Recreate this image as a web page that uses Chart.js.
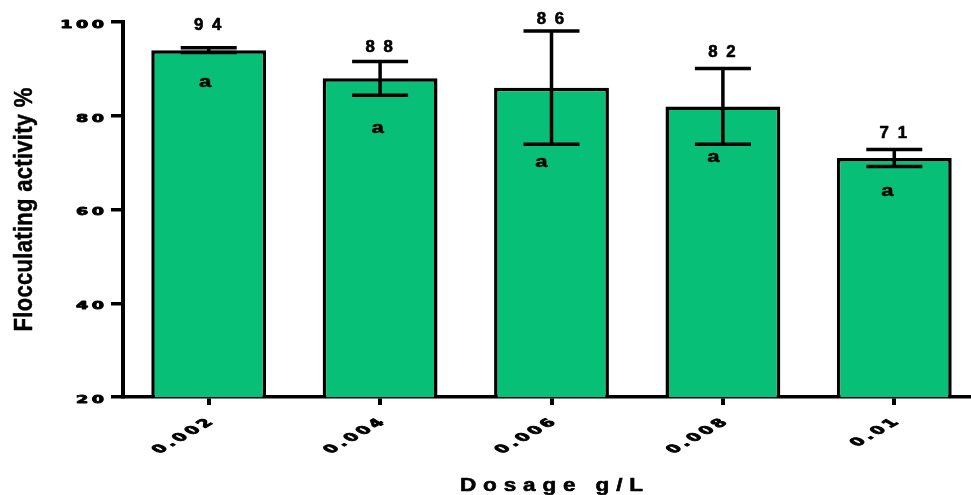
<!DOCTYPE html>
<html>
<head>
<meta charset="utf-8">
<title>Flocculating activity vs dosage</title>
<script src="https://cdn.jsdelivr.net/npm/chart.js@4/dist/chart.umd.min.js"></script>
<style>
  html, body { margin: 0; padding: 0; background: #fff; overflow: hidden; }
  #wrap { width: 971px; height: 495px; overflow: hidden; position: relative; }
  canvas { display: block; }
</style>
</head>
<body>
<div id="wrap"><canvas id="chart" width="980" height="495"></canvas></div>
<script>
// Dosage groups and measured flocculating activity (%)
const categories = ['0.002', '0.004', '0.006', '0.008', '0.01'];
const activity = [94, 88, 86, 82, 71];
const errorSD = [0.5, 3.6, 12.1, 8.1, 1.8];
const valueLabels = ['94', '88', '86', '82', '71'];
const groupLetters = ['a', 'a', 'a', 'a', 'a'];
const yTicks = [20, 40, 60, 80, 100];

// hand placement of the annotations, in pixels
const labelLift = [18, 9.5, 7, 11.5, 12];        // value label baseline above the upper cap
const letterDrop = [35, 37.5, 22.5, 17.5, 30];   // letter baseline below the lower cap
const letterShift = [-3.5, -2.5, -10, -9.5, -7]; // letter horizontal nudge

const FONT = '"Liberation Sans", Arial, sans-serif';
const TICK_FONT = 'bold 11px "DejaVu Sans", sans-serif';
const BAR_GREEN = '#08bf78';

// text with horizontal stretch, rotation, letter spacing and optional outline weight
function drawText(ctx, text, x, y, o) {
  const sp = o.spacing || 0;
  ctx.save();
  ctx.translate(x, y);
  ctx.scale(o.sx || 1, 1);
  if (o.angle) ctx.rotate(o.angle);
  ctx.font = o.font;
  ctx.textAlign = 'left';
  ctx.textBaseline = o.baseline || 'alphabetic';
  ctx.fillStyle = '#000';
  ctx.strokeStyle = '#000';
  ctx.lineJoin = 'round';
  ctx.lineWidth = o.weight || 0;
  const chars = Array.from(text);
  const widths = chars.map(ch => ctx.measureText(ch).width);
  const w = widths.reduce((a, b) => a + b, 0) + sp * (chars.length - 1);
  let cx = o.align === 'center' ? -w / 2 : o.align === 'right' ? -w : 0;
  chars.forEach((ch, k) => {
    ctx.fillText(ch, cx, 0);
    if (o.weight) ctx.strokeText(ch, cx, 0);
    cx += widths[k] + sp;
  });
  ctx.restore();
}

const errorBars = {
  id: 'errorBars',
  afterDatasetsDraw(chart) {
    const ctx = chart.ctx;
    const y = chart.scales.y;
    const meta = chart.getDatasetMeta(0);
    ctx.save();
    ctx.strokeStyle = '#000';
    ctx.lineWidth = 3.5;
    ctx.lineCap = 'butt';
    meta.data.forEach((bar, i) => {
      const top = y.getPixelForValue(activity[i] + errorSD[i]);
      const bot = y.getPixelForValue(activity[i] - errorSD[i]);
      const half = 28;
      ctx.beginPath();
      ctx.moveTo(bar.x, top);
      ctx.lineTo(bar.x, bot);
      ctx.moveTo(bar.x - half, top);
      ctx.lineTo(bar.x + half, top);
      ctx.moveTo(bar.x - half, bot);
      ctx.lineTo(bar.x + half, bot);
      ctx.stroke();
    });
    ctx.restore();
  }
};

const textLayer = {
  id: 'textLayer',
  afterDraw(chart) {
    const ctx = chart.ctx;
    const y = chart.scales.y;
    const x = chart.scales.x;
    const area = chart.chartArea;

    // y tick labels
    yTicks.forEach(v => {
      drawText(ctx, String(v), 104, y.getPixelForValue(v) + 5.8,
        { font: TICK_FONT, sx: 1.6, spacing: 2.2, align: 'right', weight: 0.9 });
    });

    // x tick labels, slanted
    categories.forEach((c, i) => {
      const px = x.getPixelForValue(i);
      drawText(ctx, c, px + 5, area.bottom + 26,
        { font: TICK_FONT, sx: 1.75, spacing: 2.3, align: 'right', angle: -Math.PI / 4, weight: 0.8 });
    });

    // axis titles
    drawText(ctx, 'Dosage g/L', (area.left + 980) / 2, 490.5,
      { font: 'bold 18px ' + FONT, sx: 1.25, spacing: 5.5, align: 'center', weight: 0.6 });
    drawText(ctx, 'Flocculating activity %', 32, (area.top + area.bottom) / 2,
      { font: 'bold 22px ' + FONT, sx: 1.2, spacing: 0.3, align: 'center', angle: -Math.PI / 2, weight: 0.4 });

    // value labels and group letters
    chart.getDatasetMeta(0).data.forEach((bar, i) => {
      const top = y.getPixelForValue(activity[i] + errorSD[i]);
      const bot = y.getPixelForValue(activity[i] - errorSD[i]);
      drawText(ctx, valueLabels[i], bar.x - 1, top - labelLift[i],
        { font: 'bold 16px ' + FONT, sx: 1.05, spacing: 8.3, align: 'center', weight: 0.6 });
      drawText(ctx, groupLetters[i], bar.x + letterShift[i], bot + letterDrop[i],
        { font: 'bold 17px ' + FONT, sx: 1.3, align: 'center', weight: 0.5 });
    });
  }
};

new Chart(document.getElementById('chart'), {
  type: 'bar',
  data: {
    labels: categories,
    datasets: [{
      data: activity,
      backgroundColor: BAR_GREEN,
      borderColor: '#000',
      borderWidth: 3.5,
      borderSkipped: false,
      barPercentage: 0.67,
      categoryPercentage: 1.0
    }]
  },
  options: {
    responsive: false,
    animation: false,
    devicePixelRatio: 1,
    layout: { padding: { left: 111, top: 22, right: 0, bottom: 90 } },
    plugins: { legend: { display: false }, tooltip: { enabled: false } },
    scales: {
      x: {
        offset: true,
        grid: {
          offset: false, drawOnChartArea: false, drawTicks: true,
          tickLength: 8, tickWidth: 4, tickColor: '#000', lineWidth: 4, color: '#000'
        },
        border: { display: true, width: 3.5, color: '#000' },
        ticks: { display: false }
      },
      y: {
        min: 20, max: 100,
        afterBuildTicks(scale) { scale.ticks = yTicks.map(v => ({ value: v })); },
        grid: {
          drawOnChartArea: false, drawTicks: true,
          tickLength: 12, tickWidth: 3.5, tickColor: '#000', lineWidth: 3.5, color: '#000'
        },
        border: { display: true, width: 4, color: '#000' },
        ticks: { display: false }
      }
    }
  },
  plugins: [errorBars, textLayer]
});
</script>
</body>
</html>
